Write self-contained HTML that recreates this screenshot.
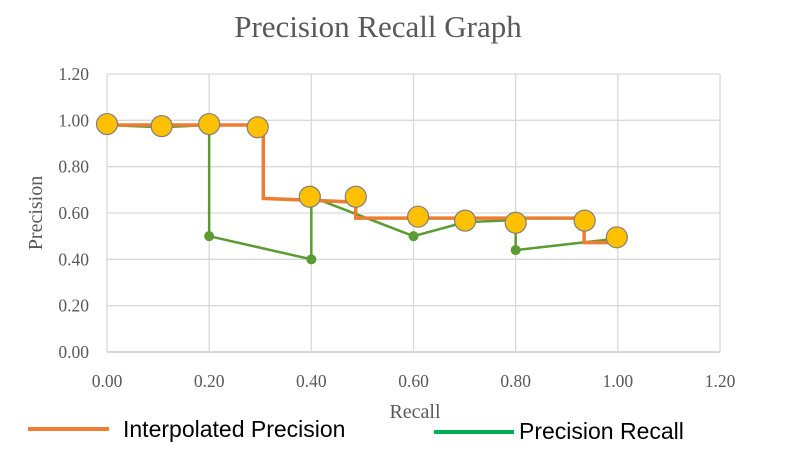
<!DOCTYPE html>
<html><head><meta charset="utf-8"><style>
body{margin:0;background:#fff;width:800px;height:449px;overflow:hidden}
svg text{font-family:"Liberation Serif",serif}
</style></head><body>
<svg id="chart" width="800" height="449">
<text x="378" y="37" text-anchor="middle" font-size="31" fill="#595959">Precision Recall Graph</text>
<g id="grid"></g><g id="ticks"></g><g id="series"></g>
<text x="415" y="418" text-anchor="middle" font-size="20" fill="#595959">Recall</text>
<text transform="translate(42,213) rotate(-90)" text-anchor="middle" font-size="20" fill="#595959">Precision</text>
<g>
<line x1="28" y1="429" x2="109" y2="429" stroke="#ED7D31" stroke-width="4"/>
<text x="123" y="437" font-size="23" fill="#000" style="font-family:'Liberation Sans',sans-serif">Interpolated Precision</text>
<line x1="434" y1="432" x2="514" y2="432" stroke="#00B050" stroke-width="4"/>
<text x="519" y="439" font-size="23" fill="#000" style="font-family:'Liberation Sans',sans-serif">Precision Recall</text>
</g>
</svg>
<script>
const xTicks=[0,0.2,0.4,0.6,0.8,1.0,1.2];
const yTicks=[0,0.2,0.4,0.6,0.8,1.0,1.2];
const interpRecall=[0,0.306,0.306,0.487,0.487,0.934,0.934,1.0];
const interpPrecision=[0.98,0.98,0.663,0.647,0.578,0.578,0.472,0.472];
const prRecall=[0,0.107,0.2,0.2,0.4,0.4,0.6,0.7,0.8,0.8,1.0];
const prPrecision=[0.98,0.97,0.98,0.5,0.4,0.67,0.5,0.56,0.57,0.44,0.49];
const dotRecall=[0.2,0.4,0.6,0.8];
const dotPrecision=[0.5,0.4,0.5,0.44];
const ptRecall=[0,0.107,0.2,0.295,0.397,0.487,0.609,0.701,0.8,0.935,0.998];
const ptPrecision=[0.984,0.975,0.984,0.97,0.67,0.67,0.584,0.567,0.558,0.567,0.495];
const X0=107,X1=720,Y0=352,Y1=74;
const sx=v=>X0+v/1.2*(X1-X0), sy=v=>Y0-v/1.2*(Y0-Y1);
const NS='http://www.w3.org/2000/svg';
function mk(t,a,p){const e=document.createElementNS(NS,t);for(const k in a)e.setAttribute(k,a[k]);p.appendChild(e);return e;}
const grid=document.getElementById('grid'),ticks=document.getElementById('ticks'),ser=document.getElementById('series');
yTicks.forEach(v=>{const l=mk('line',{x1:X0,x2:X1,y1:sy(v),y2:sy(v),stroke:v==0?'#bfbfbf':'#d9d9d9','stroke-width':1.3},grid);


const t=mk('text',{x:89,y:sy(v)+6,'text-anchor':'end','font-size':17.5,fill:'#595959'},ticks);t.textContent=v.toFixed(2);

});
xTicks.forEach(v=>{const l=mk('line',{x1:sx(v),x2:sx(v),y1:Y1,y2:Y0,stroke:'#d9d9d9','stroke-width':1.3},grid);


const t=mk('text',{x:sx(v),y:387,'text-anchor':'middle','font-size':17.5,fill:'#595959'},ticks);t.textContent=v.toFixed(2);

});
const pts=(xs,ys)=>xs.map((x,i)=>sx(x)+','+sy(ys[i])).join(' ');
const g=mk('polyline',{points:pts(prRecall,prPrecision),fill:'none',stroke:'#5B9B32','stroke-width':2.5},ser);


dotRecall.forEach((x,i)=>{const c=mk('circle',{cx:sx(x),cy:sy(dotPrecision[i]),r:5,fill:'#5B9B32'},ser);

});
const o=mk('polyline',{points:pts(interpRecall,interpPrecision),fill:'none',stroke:'#ED7D31','stroke-width':3.5},ser);


ptRecall.forEach((x,i)=>{const c=mk('circle',{cx:sx(x),cy:sy(ptPrecision[i]),r:10.5,fill:'#FFC000',stroke:'#7f7f7f','stroke-width':1.2},ser);

});
</script>
</body></html>
